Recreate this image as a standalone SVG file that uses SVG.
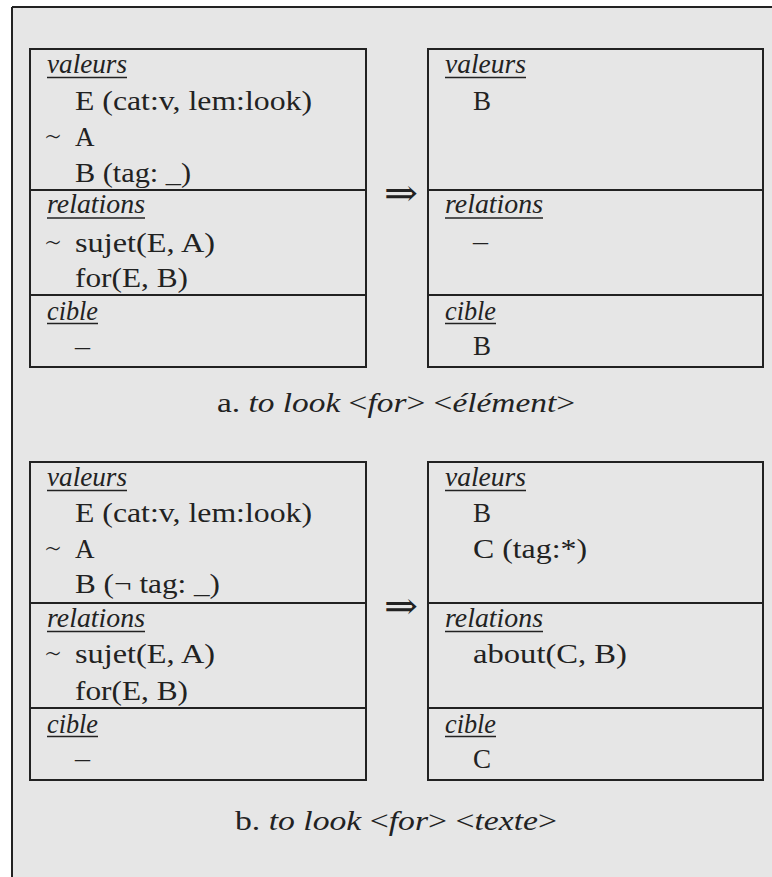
<svg xmlns="http://www.w3.org/2000/svg" width="772" height="877" viewBox="0 0 772 877">
<style>
.t{font-family:"Liberation Serif","Times New Roman",serif;font-size:27px;fill:#222}
.i{font-style:italic}
.tl{font-family:"DejaVu Sans",sans-serif;font-weight:200;font-size:30px;fill:#222}
.box{fill:none;stroke:#222;stroke-width:2}
.div{stroke:#222;stroke-width:2}
.ul{stroke:#222;stroke-width:1.6}
.arr{font-family:"DejaVu Serif","DejaVu Sans",serif;font-size:38px;fill:#222}
</style>
<rect x="0" y="0" width="772" height="877" fill="#ffffff"/>
<rect x="12" y="7" width="760" height="870" fill="#e6e6e6"/>
<line x1="12" y1="7" x2="772" y2="7" stroke="#222" stroke-width="2"/>
<line x1="12" y1="7" x2="12" y2="877" stroke="#222" stroke-width="2"/>

<!-- Figure a, left -->
<g id="a-left">
<rect class="box" x="30" y="49" width="336" height="318"/>
<line class="div" x1="30" y1="190" x2="366" y2="190"/>
<line class="div" x1="30" y1="295" x2="366" y2="295"/>
<text class="t i" x="47" y="73" textLength="80" lengthAdjust="spacingAndGlyphs">valeurs</text>
<line class="ul" x1="47" y1="77.5" x2="127" y2="77.5"/>
<text class="t" x="75" y="110" textLength="237" lengthAdjust="spacingAndGlyphs">E (cat:v, lem:look)</text>
<text class="tl" x="44" y="147" textLength="18" lengthAdjust="spacingAndGlyphs">∼</text>
<text class="t" x="75" y="146">A</text>
<text class="t" x="75" y="182" textLength="116" lengthAdjust="spacingAndGlyphs">B (tag: _)</text>
<text class="t i" x="47" y="213" textLength="98" lengthAdjust="spacingAndGlyphs">relations</text>
<line class="ul" x1="47" y1="218" x2="145" y2="218"/>
<text class="tl" x="44" y="253" textLength="18" lengthAdjust="spacingAndGlyphs">∼</text>
<text class="t" x="75" y="252" textLength="140" lengthAdjust="spacingAndGlyphs">sujet(E, A)</text>
<text class="t" x="75" y="287" textLength="113" lengthAdjust="spacingAndGlyphs">for(E, B)</text>
<text class="t i" x="47" y="320" textLength="51" lengthAdjust="spacingAndGlyphs">cible</text>
<line class="ul" x1="47" y1="323.5" x2="98" y2="323.5"/>
<text class="t" x="75" y="355" textLength="15" lengthAdjust="spacingAndGlyphs">–</text>
</g>

<!-- Figure a, right -->
<g id="a-right">
<rect class="box" x="428" y="49" width="335" height="318"/>
<line class="div" x1="428" y1="190" x2="763" y2="190"/>
<line class="div" x1="428" y1="295" x2="763" y2="295"/>
<text class="t i" x="445" y="73" textLength="81" lengthAdjust="spacingAndGlyphs">valeurs</text>
<line class="ul" x1="445" y1="77.5" x2="526" y2="77.5"/>
<text class="t" x="473" y="110">B</text>
<text class="t i" x="445" y="213" textLength="98" lengthAdjust="spacingAndGlyphs">relations</text>
<line class="ul" x1="445" y1="218" x2="543" y2="218"/>
<text class="t" x="473" y="250" textLength="15" lengthAdjust="spacingAndGlyphs">–</text>
<text class="t i" x="445" y="320" textLength="51" lengthAdjust="spacingAndGlyphs">cible</text>
<line class="ul" x1="445" y1="323.5" x2="496" y2="323.5"/>
<text class="t" x="473" y="355">B</text>
</g>

<!-- Figure b, left -->
<g id="b-left">
<rect class="box" x="30" y="462" width="336" height="318"/>
<line class="div" x1="30" y1="603" x2="366" y2="603"/>
<line class="div" x1="30" y1="708" x2="366" y2="708"/>
<text class="t i" x="47" y="486" textLength="80" lengthAdjust="spacingAndGlyphs">valeurs</text>
<line class="ul" x1="47" y1="490.5" x2="127" y2="490.5"/>
<text class="t" x="75" y="522" textLength="237" lengthAdjust="spacingAndGlyphs">E (cat:v, lem:look)</text>
<text class="tl" x="44" y="559" textLength="18" lengthAdjust="spacingAndGlyphs">∼</text>
<text class="t" x="75" y="558">A</text>
<text class="t" x="75" y="593" textLength="145" lengthAdjust="spacingAndGlyphs">B (¬ tag: _)</text>
<text class="t i" x="47" y="627" textLength="98" lengthAdjust="spacingAndGlyphs">relations</text>
<line class="ul" x1="47" y1="631.5" x2="145" y2="631.5"/>
<text class="tl" x="44" y="664" textLength="18" lengthAdjust="spacingAndGlyphs">∼</text>
<text class="t" x="75" y="663" textLength="140" lengthAdjust="spacingAndGlyphs">sujet(E, A)</text>
<text class="t" x="75" y="700" textLength="113" lengthAdjust="spacingAndGlyphs">for(E, B)</text>
<text class="t i" x="47" y="733" textLength="51" lengthAdjust="spacingAndGlyphs">cible</text>
<line class="ul" x1="47" y1="736.5" x2="98" y2="736.5"/>
<text class="t" x="75" y="767" textLength="15" lengthAdjust="spacingAndGlyphs">–</text>
</g>

<!-- Figure b, right -->
<g id="b-right">
<rect class="box" x="428" y="462" width="335" height="318"/>
<line class="div" x1="428" y1="603" x2="763" y2="603"/>
<line class="div" x1="428" y1="708" x2="763" y2="708"/>
<text class="t i" x="445" y="486" textLength="81" lengthAdjust="spacingAndGlyphs">valeurs</text>
<line class="ul" x1="445" y1="490.5" x2="526" y2="490.5"/>
<text class="t" x="473" y="522">B</text>
<text class="t" x="473" y="558" textLength="114" lengthAdjust="spacingAndGlyphs">C (tag:*)</text>
<text class="t i" x="445" y="627" textLength="98" lengthAdjust="spacingAndGlyphs">relations</text>
<line class="ul" x1="445" y1="631.5" x2="543" y2="631.5"/>
<text class="t" x="473" y="663" textLength="154" lengthAdjust="spacingAndGlyphs">about(C, B)</text>
<text class="t i" x="445" y="733" textLength="51" lengthAdjust="spacingAndGlyphs">cible</text>
<line class="ul" x1="445" y1="736.5" x2="496" y2="736.5"/>
<text class="t" x="473" y="768">C</text>
</g>

<g id="connectors">
<text class="arr" x="384" y="206" textLength="34" lengthAdjust="spacingAndGlyphs">⇒</text>
<text class="arr" x="384" y="619" textLength="34" lengthAdjust="spacingAndGlyphs">⇒</text>
</g>

<g id="captions">
<text class="t" x="217" y="412" textLength="358" lengthAdjust="spacingAndGlyphs">a. <tspan class="i">to look </tspan>&lt;<tspan class="i">for</tspan>&gt; &lt;<tspan class="i">élément</tspan>&gt;</text>
<text class="t" x="235" y="830" textLength="322" lengthAdjust="spacingAndGlyphs">b. <tspan class="i">to look </tspan>&lt;<tspan class="i">for</tspan>&gt; &lt;<tspan class="i">texte</tspan>&gt;</text>
</g>
</svg>
